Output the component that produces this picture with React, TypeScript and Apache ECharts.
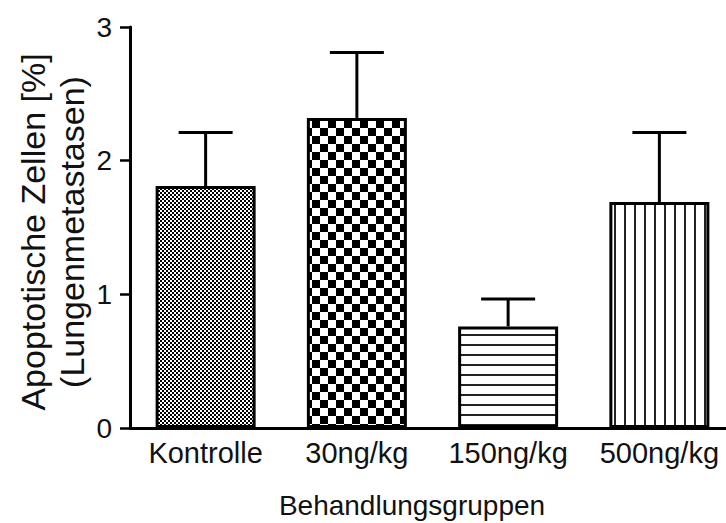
import React, { useEffect, useRef } from "react";
import * as echarts from "echarts";

const categories = ["Kontrolle", "30ng/kg", "150ng/kg", "500ng/kg"];
const means = [1.81, 2.32, 0.76, 1.69];
const sems = [0.4, 0.49, 0.205, 0.52];
const yTicks = { min: 0, max: 3, interval: 1 };
const xTitle = "Behandlungsgruppen";
const yTitleLines = ["Apoptotische Zellen [%]", "(Lungenmetastasen)"];

const FONT = "'Liberation Sans', Arial, sans-serif";

function makePattern(kind: string) {
  const c = document.createElement("canvas");
  let w = 4, h = 4;
  if (kind === "fine") { w = 4; h = 4; }
  if (kind === "checker") { w = 16; h = 16; }
  if (kind === "hlines" || kind === "vlines") { w = 10; h = 10; }
  c.width = w; c.height = h;
  const ctx = c.getContext("2d")!;
  ctx.fillStyle = "#fff";
  ctx.fillRect(0, 0, w, h);
  ctx.fillStyle = "#000";
  if (kind === "fine") {
    ctx.fillRect(0, 0, 2, 2);
    ctx.fillRect(2, 2, 2, 2);
  } else if (kind === "checker") {
    ctx.fillRect(0, 0, 8, 8);
    ctx.fillRect(8, 8, 8, 8);
  } else if (kind === "hlines") {
    ctx.fillStyle = "#222";
    ctx.fillRect(0, 4, 10, 2);
  } else if (kind === "vlines") {
    ctx.fillStyle = "#222";
    ctx.fillRect(4, 0, 2, 10);
  }
  return { image: c.toDataURL(), imageWidth: w, imageHeight: h, repeat: "repeat" };
}

export default function App() {
  const ref = useRef<HTMLDivElement>(null);
  useEffect(() => {
    if (!ref.current) return;
    const chart = echarts.init(ref.current, null, { renderer: "svg" });
    const kinds = ["fine", "checker", "hlines", "vlines"];
    const barData = means.map((v, i) => ({
      value: v,
      itemStyle: { color: makePattern(kinds[i]) as any, borderColor: "#000", borderWidth: 3 },
    }));
    const errData = means.map((v, i) => [i, v, v + sems[i]]);
    chart.setOption({
      animation: false,
      backgroundColor: "#fff",
      grid: { left: 130, top: 27, width: 605, bottom: 95 },
      xAxis: {
        type: "category",
        data: categories,
        axisLine: { lineStyle: { color: "#000", width: 3 } },
        axisTick: { alignWithLabel: true, length: 10, lineStyle: { color: "#000", width: 2.5 } },
        axisLabel: { color: "#111", fontSize: 29, fontFamily: FONT, margin: 10, interval: 0 },
      },
      yAxis: {
        type: "value",
        min: yTicks.min,
        max: yTicks.max,
        interval: yTicks.interval,
        splitLine: { show: false },
        axisLine: { show: true, lineStyle: { color: "#000", width: 3 } },
        axisTick: { show: true, length: 10, lineStyle: { color: "#000", width: 2.5 } },
        axisLabel: { color: "#111", fontSize: 28, fontFamily: FONT, margin: 18 },
      },
      graphic: [
        {
          type: "text",
          x: 412,
          y: 505,
          style: { text: xTitle, fill: "#111", font: `28px ${FONT}`, align: "center", verticalAlign: "middle" },
        },
        {
          type: "text",
          x: 33,
          y: 232,
          rotation: Math.PI / 2,
          style: { text: yTitleLines[0], fill: "#111", font: `34px ${FONT}`, align: "center", verticalAlign: "middle" },
        },
        {
          type: "text",
          x: 72,
          y: 232,
          rotation: Math.PI / 2,
          style: { text: yTitleLines[1], fill: "#111", font: `34px ${FONT}`, align: "center", verticalAlign: "middle" },
        },
      ],
      series: [
        {
          type: "bar",
          data: barData,
          barWidth: 100,
          z: 2,
        },
        {
          type: "custom",
          z: 3,
          data: errData,
          renderItem: (params: any, api: any) => {
            const i = api.value(0);
            const lo = api.coord([i, api.value(1)]);
            const hi = api.coord([i, api.value(2)]);
            const half = 27;
            return {
              type: "group",
              children: [
                { type: "line", shape: { x1: lo[0], y1: lo[1], x2: hi[0], y2: hi[1] }, style: { stroke: "#000", lineWidth: 3 } },
                { type: "line", shape: { x1: hi[0] - half, y1: hi[1], x2: hi[0] + half, y2: hi[1] }, style: { stroke: "#000", lineWidth: 3 } },
              ],
            };
          },
        },
      ],
    });
    return () => chart.dispose();
  }, []);
  return (
    <div style={{ position: "fixed", left: 0, top: 0, width: 726, height: 523, overflow: "hidden" }}>
      <div ref={ref} style={{ width: 740, height: 523 }} />
    </div>
  );
}
